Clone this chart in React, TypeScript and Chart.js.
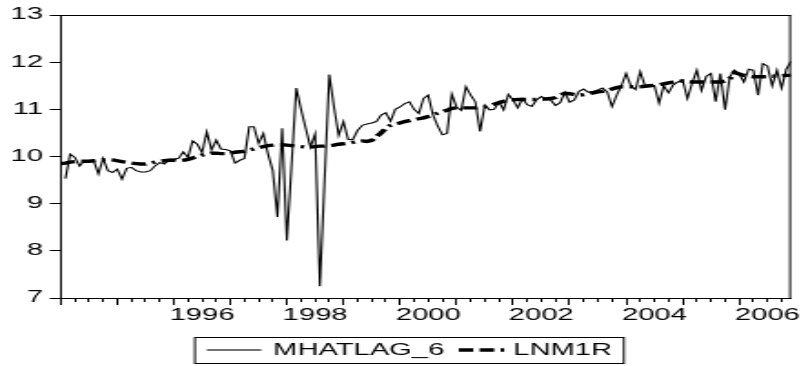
import { useEffect, useRef } from "react";
import { Chart, registerables } from "chart.js";

Chart.register(...registerables);

// ---------- data (monthly, 1994M01 .. 2006M12) ----------
const seriesNames = ["MHATLAG_6", "LNM1R"];
const yearLabels = ["1996", "1998", "2000", "2002", "2004", "2006"];
const yearLabelMonths = [30, 54, 78, 102, 126, 150]; // mid-year positions
const yTickValues = [7, 8, 9, 10, 11, 12, 13];

const mhatlag6: (number | null)[] = [
  null, 9.53, 10.05, 9.98, 9.8, 9.91, 9.9, 9.91, 9.63, 9.96, 9.7, 9.66,
  9.73, 9.52, 9.75, 9.77, 9.7, 9.67, 9.67, 9.7, 9.8, 9.87, 9.84, 9.94,
  9.94, 9.96, 10.1, 9.98, 10.33, 10.26, 10.08, 10.52, 10.14, 10.35, 10.16, 10.15,
  10.12, 9.86, 9.92, 9.96, 10.63, 10.63, 10.28, 10.49, 10.05, 9.7, 8.72, 10.6,
  8.22, 9.83, 11.45, 11.0, 10.6, 10.2, 10.48, 7.25, 9.5, 11.74, 11.05, 10.45,
  10.74, 10.36, 10.36, 10.55, 10.66, 10.69, 10.71, 10.74, 10.88, 10.93, 10.75, 11.0,
  11.05, 11.12, 11.16, 11.0, 10.91, 11.23, 11.3, 10.88, 10.65, 10.46, 10.49, 11.32,
  11.05, 10.98, 11.48, 11.3, 11.16, 10.53, 11.09, 10.99, 11.0, 11.16, 10.99, 11.32,
  11.2, 11.03, 11.23, 11.1, 11.06, 11.2, 11.27, 11.22, 11.2, 11.08, 11.14, 11.36,
  11.15, 11.2, 11.38, 11.43, 11.36, 11.38, 11.41, 11.45, 11.37, 11.06, 11.3, 11.5,
  11.76, 11.5, 11.42, 11.8, 11.5, 11.52, 11.5, 11.13, 11.5, 11.35, 11.52, 11.58,
  11.62, 11.23, 11.55, 11.83, 11.4, 11.7, 11.76, 11.16, 11.76, 10.99, 11.69, 11.83,
  11.75, 11.58, 11.85, 11.83, 11.3, 11.97, 11.92, 11.5, 11.83, 11.45, 11.85, 12.02,
];

const lnm1r: number[] = [
  9.85, 9.86, 9.88, 9.89, 9.9, 9.9, 9.9, 9.91, 9.92, 9.93, 9.94, 9.93,
  9.91, 9.89, 9.88, 9.86, 9.85, 9.84, 9.84, 9.86, 9.88, 9.9, 9.91, 9.92,
  9.92, 9.91, 9.92, 9.94, 9.97, 10.0, 10.03, 10.05, 10.07, 10.07, 10.06, 10.06,
  10.07, 10.09, 10.1, 10.11, 10.14, 10.16, 10.19, 10.21, 10.23, 10.24, 10.25, 10.25,
  10.24, 10.23, 10.22, 10.21, 10.2, 10.2, 10.21, 10.22, 10.22, 10.23, 10.24, 10.26,
  10.27, 10.28, 10.3, 10.32, 10.33, 10.32, 10.34, 10.42, 10.5, 10.6, 10.66, 10.69,
  10.71, 10.74, 10.76, 10.78, 10.8, 10.82, 10.85, 10.88, 10.92, 10.95, 10.98, 11.02,
  11.03, 11.03, 11.03, 11.03, 11.03, 11.04, 11.05, 11.08, 11.11, 11.14, 11.17, 11.19,
  11.2, 11.21, 11.21, 11.21, 11.21, 11.21, 11.22, 11.22, 11.23, 11.25, 11.3, 11.34,
  11.33, 11.31, 11.3, 11.31, 11.33, 11.35, 11.37, 11.38, 11.4, 11.43, 11.46, 11.48,
  11.48, 11.48, 11.48, 11.48, 11.49, 11.5, 11.51, 11.52, 11.54, 11.56, 11.58, 11.6,
  11.6, 11.59, 11.58, 11.58, 11.58, 11.58, 11.58, 11.58, 11.58, 11.6, 11.65, 11.78,
  11.75, 11.72, 11.7, 11.69, 11.69, 11.69, 11.69, 11.7, 11.7, 11.71, 11.72, 11.72,
];

// ---------- layout (native canvas px; the canvas is stretched horizontally) ----------
const STRETCH = 1.82;
const W = Math.floor(801 / STRETCH);
const H = 366;
const PLOT_LEFT = 60.7 / STRETCH;
const PLOT_RIGHT = 791 / STRETCH;
const PLOT_TOP = 15;
const PLOT_BOTTOM = 298;
const FONT = "'Liberation Sans', Arial, Helvetica, sans-serif";
const FONT_SIZE = 16;
const DASH = [8, 3.5, 8, 3.5, 2, 3.5];
const N = mhatlag6.length;
const quarterTicks = Array.from({ length: N / 3 }, (_, i) => i * 3);
const yearTicks = Array.from({ length: N / 12 }, (_, i) => i * 12);

const framePlugin = {
  id: "frame",
  afterDraw(chart: any) {
    const { ctx, chartArea } = chart;
    const { left, right, top, bottom } = chartArea;
    ctx.save();
    ctx.strokeStyle = "#000";
    ctx.lineWidth = 1;
    ctx.setLineDash([]);
    ctx.beginPath();
    ctx.moveTo(left, top + 0.5);
    ctx.lineTo(right, top + 0.5);
    ctx.moveTo(right - 0.5, top);
    ctx.lineTo(right - 0.5, bottom);
    ctx.stroke();

    // legend box
    ctx.font = `${FONT_SIZE}px ${FONT}`;
    ctx.fillStyle = "#000";
    ctx.textBaseline = "middle";
    ctx.textAlign = "left";
    const boxLeft = 194 / STRETCH;
    const boxTop = 337;
    const boxH = 26;
    const cy = boxTop + boxH / 2;
    let x = boxLeft + 7;
    ctx.lineWidth = 1.1;
    ctx.beginPath();
    ctx.moveTo(x, cy);
    ctx.lineTo(x + 30, cy);
    ctx.stroke();
    x += 30 + 6.5;
    ctx.fillText(seriesNames[0], x, cy + 1);
    x += ctx.measureText(seriesNames[0]).width + 8;
    ctx.lineWidth = 3.4;
    ctx.setLineDash(DASH);
    ctx.beginPath();
    ctx.moveTo(x, cy);
    ctx.lineTo(x + 26, cy);
    ctx.stroke();
    ctx.setLineDash([]);
    x += 26 + 4;
    ctx.fillText(seriesNames[1], x, cy + 1);
    x += ctx.measureText(seriesNames[1]).width + 6;
    ctx.lineWidth = 1;
    ctx.strokeRect(boxLeft + 0.5, boxTop + 0.5, x - boxLeft, boxH);
    ctx.restore();
  },
};

export default function App() {
  const ref = useRef<HTMLCanvasElement | null>(null);

  useEffect(() => {
    if (!ref.current) return;
    const font = { family: FONT, size: FONT_SIZE };
    const chart = new Chart(ref.current, {
      type: "line",
      data: {
        datasets: [
          {
            label: seriesNames[0],
            data: mhatlag6.map((v, i) => ({ x: i, y: v })) as any,
            borderColor: "#000",
            borderWidth: 1.1,
            pointRadius: 0,
            tension: 0,
            fill: false,
            xAxisID: "x",
            yAxisID: "y",
          },
          {
            label: seriesNames[1],
            data: lnm1r.map((v, i) => ({ x: i, y: v })),
            borderColor: "#000",
            borderWidth: 3.4,
            borderDash: DASH,
            pointRadius: 0,
            tension: 0,
            fill: false,
            xAxisID: "x",
            yAxisID: "y",
          },
        ],
      },
      options: {
        animation: false,
        responsive: false,
        maintainAspectRatio: false,
        events: [],
        layout: { padding: { top: PLOT_TOP, left: 0, right: W - PLOT_RIGHT, bottom: 0 } },
        plugins: { legend: { display: false }, tooltip: { enabled: false } },
        scales: {
          x: {
            type: "linear",
            axis: "x",
            position: "bottom",
            weight: 0,
            min: 0,
            max: N - 1,
            afterBuildTicks: (s: any) => {
              s.ticks = quarterTicks.map((v) => ({ value: v }));
            },
            ticks: { display: false, autoSkip: false },
            grid: { drawOnChartArea: false, drawTicks: true, tickLength: 4, color: "#000", lineWidth: 1 },
            border: { display: true, color: "#000", width: 1 },
            afterFit: (s: any) => {
              s.height = 0;
              s.paddingLeft = 0;
              s.paddingRight = 0;
            },
          },
          xMaj: {
            type: "linear",
            axis: "x",
            position: "bottom",
            weight: -1,
            min: 0,
            max: N - 1,
            afterBuildTicks: (s: any) => {
              s.ticks = yearTicks.map((v) => ({ value: v }));
            },
            ticks: { display: false, autoSkip: false },
            grid: { drawOnChartArea: false, drawTicks: true, tickLength: 7, color: "#000", lineWidth: 1 },
            border: { display: false },
            afterFit: (s: any) => {
              s.height = 0;
              s.paddingLeft = 0;
              s.paddingRight = 0;
            },
          },
          xLab: {
            type: "linear",
            axis: "x",
            position: "bottom",
            weight: 1,
            min: 0,
            max: N - 1,
            afterBuildTicks: (s: any) => {
              s.ticks = yearLabelMonths.map((v) => ({ value: v }));
            },
            ticks: {
              autoSkip: false,
              maxRotation: 0,
              minRotation: 0,
              padding: 8,
              color: "#000",
              font,
              callback: (v: any) => {
                const i = yearLabelMonths.indexOf(Number(v));
                return i >= 0 ? yearLabels[i] : "";
              },
            },
            grid: { display: false, drawTicks: false, drawOnChartArea: false },
            border: { display: false },
            afterFit: (s: any) => {
              s.height = H - PLOT_BOTTOM;
              s.paddingLeft = 0;
              s.paddingRight = 0;
            },
          },
          y: {
            type: "linear",
            position: "left",
            min: 7,
            max: 13,
            afterBuildTicks: (s: any) => {
              s.ticks = yTickValues.map((v) => ({ value: v }));
            },
            ticks: { padding: 3.7, color: "#000", font, autoSkip: false, callback: (v: any) => String(v) },
            grid: { drawOnChartArea: false, drawTicks: true, tickLength: 6, color: "#000", lineWidth: 1 },
            border: { display: true, color: "#000", width: 1 },
            afterFit: (s: any) => {
              s.width = PLOT_LEFT;
              s.paddingTop = 0;
              s.paddingBottom = 0;
            },
          },
        },
      } as any,
      plugins: [framePlugin],
    });
    return () => chart.destroy();
  }, []);

  return (
    <div style={{ position: "absolute", left: 0, top: 0, width: 801, height: H, overflow: "hidden", background: "#fff" }}>
      <div style={{ width: W, height: H, transform: `scaleX(${STRETCH})`, transformOrigin: "0 0" }}>
        <canvas ref={ref} width={W} height={H} style={{ display: "block" }} />
      </div>
    </div>
  );
}
